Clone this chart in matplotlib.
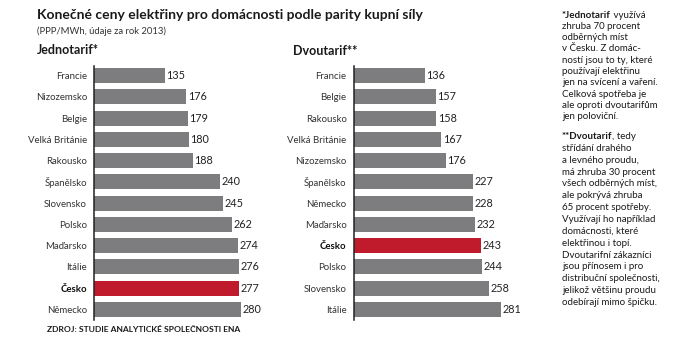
import matplotlib
matplotlib.use("Agg")
import matplotlib.pyplot as plt

W, H = 673, 339
plt.rcParams['font.family'] = ['Lato', 'DejaVu Sans']

title = "Konečné ceny elektřiny pro domácnosti podle parity kupní síly"
subtitle = "(PPP/MWh, údaje za rok 2013)"
source = "ZDROJ: STUDIE ANALYTICKÉ SPOLEČNOSTI ENA"

left_title = "Jednotarif*"
left_countries = ["Francie", "Nizozemsko", "Belgie", "Velká Británie", "Rakousko",
                  "Španělsko", "Slovensko", "Polsko", "Maďarsko", "Itálie", "Česko", "Německo"]
left_values = [135, 176, 179, 180, 188, 240, 245, 262, 274, 276, 277, 280]

right_title = "Dvoutarif**"
right_countries = ["Francie", "Belgie", "Rakousko", "Velká Británie", "Nizozemsko",
                   "Španělsko", "Německo", "Maďarsko", "Česko", "Polsko", "Slovensko", "Itálie"]
right_values = [136, 157, 158, 167, 176, 227, 228, 232, 243, 244, 258, 281]

highlight = "Česko"
GRAY = "#7d7d80"
RED = "#c01b2c"

fig = plt.figure(figsize=(W / 100, H / 100), dpi=100)
fig.patch.set_facecolor("white")


def fx(x):
    return x / W


def fy(y):
    return 1 - y / H


top_px, bot_px = 66.5, 320.0
scale = 0.525  # px per unit
xmax = 300


def panel(x0, countries, values):
    ax = fig.add_axes([fx(x0), fy(bot_px), xmax * scale / W, (bot_px - top_px) / H])
    colors = [RED if c == highlight else GRAY for c in countries]
    ypos = list(range(len(countries)))
    ax.barh(ypos, values, height=0.70, color=colors, edgecolor="none")
    ax.set_xlim(0, xmax)
    ax.set_ylim(len(countries) - 0.5, -0.43)
    for s in ["top", "right", "bottom"]:
        ax.spines[s].set_visible(False)
    ax.spines["left"].set_linewidth(1.1)
    ax.spines["left"].set_color("#222222")
    ax.set_xticks([])
    ax.set_yticks(ypos)
    ax.set_yticklabels(countries, fontsize=6.9, color="#333333")
    ax.tick_params(axis="y", length=0, pad=5)
    for lbl in ax.get_yticklabels():
        if lbl.get_text() == highlight:
            lbl.set_fontweight("bold")
            lbl.set_color("#111111")
    for yv, v in zip(ypos, values):
        ax.text(v + 3, yv, str(v), va="center", ha="left", fontsize=7.8, color="#222222")
    return ax


panel(94, left_countries, left_values)
panel(353.5, right_countries, right_values)

fig.text(fx(37), fy(15), title, fontsize=10.0, fontweight="bold", color="#1a1a1a", va="center", ha="left")
fig.text(fx(37), fy(31.5), subtitle, fontsize=6.8, color="#333333", va="center", ha="left")
fig.text(fx(37), fy(50.5), left_title, fontsize=9.0, fontweight="bold", color="#1a1a1a", va="center", ha="left")
fig.text(fx(293), fy(51), right_title, fontsize=9.0, fontweight="bold", color="#1a1a1a", va="center", ha="left")
fig.text(fx(47), fy(330), source, fontsize=6.1, fontweight="bold", color="#1a1a1a", va="center", ha="left")

note1 = [("*Jednotarif", " využívá"), ("", "zhruba 70 procent"), ("", "odběrných míst"),
         ("", "v Česku. Z domác-"), ("", "ností jsou to ty, které"), ("", "používají elektřinu"),
         ("", "jen na svícení a vaření."), ("", "Celková spotřeba je"),
         ("", "ale oproti dvoutarifům"), ("", "jen poloviční.")]
note2 = [("**Dvoutarif", ", tedy"), ("", "střídání drahého"), ("", "a levného proudu,"),
         ("", "má zhruba 30 procent"), ("", "všech odběrných míst,"), ("", "ale pokrývá zhruba"),
         ("", "65 procent spotřeby."), ("", "Využívají ho například"), ("", "domácnosti, které"),
         ("", "elektřinou i topí."), ("", "Dvoutarifní zákazníci"), ("", "jsou přínosem i pro"),
         ("", "distribuční společnosti,"), ("", "jelikož většinu proudu"), ("", "odebírají mimo špičku.")]

NOTE_FS = 7.0


def draw_note(lines, y0, step):
    renderer = fig.canvas.get_renderer()
    for i, (b, r) in enumerate(lines):
        y = y0 + i * step
        x = 562
        if b:
            t = fig.text(fx(x), fy(y), b, fontsize=NOTE_FS, fontweight="bold", color="#1a1a1a",
                         va="center", ha="left")
            bb = t.get_window_extent(renderer=renderer)
            x = bb.x1
        fig.text(fx(x), fy(y), r, fontsize=NOTE_FS, color="#1a1a1a", va="center", ha="left")


draw_note(note1, 15, 11.3)
draw_note(note2, 136.5, 11.85)

fig.savefig("out.png", dpi=100, facecolor="white")
